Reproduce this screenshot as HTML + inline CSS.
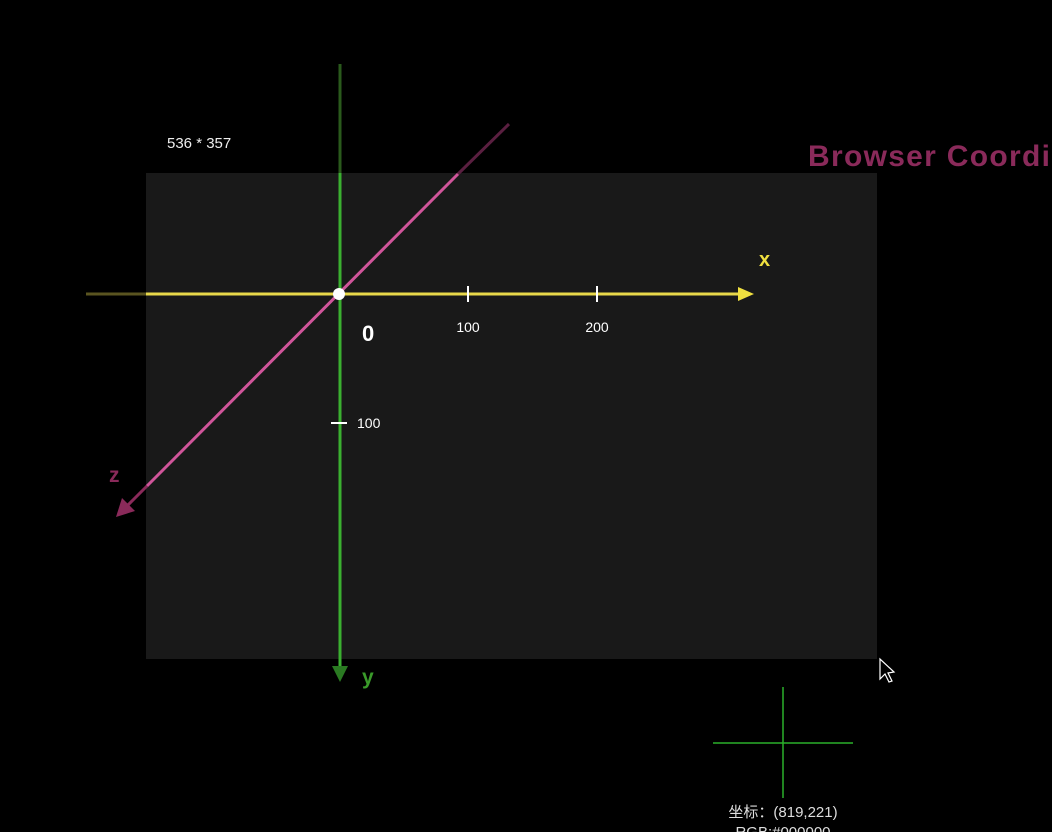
<!DOCTYPE html>
<html><head><meta charset="utf-8"><style>
html,body{margin:0;padding:0;background:#000;width:1052px;height:832px;overflow:hidden}
svg{display:block}
text{font-family:"Liberation Sans","Noto Sans CJK SC",sans-serif}
</style></head><body>
<svg id="c" width="1052" height="832">
<rect x="146" y="173" width="731" height="486" fill="#191919"/>
<text x="167" y="148" fill="#eee" font-size="15">536 * 357</text>
<text x="808" y="166" fill="#8a2a5a" font-size="30" font-weight="bold" letter-spacing="1.3">Browser Coordi</text>
<line x1="86" y1="294" x2="146" y2="294" stroke="#5a5420" stroke-width="3"/>
<line x1="146" y1="294" x2="742" y2="294" stroke="#e8d84a" stroke-width="3"/>
<polygon points="738,287 754,294 738,301" fill="#f0e040"/>
<text x="759" y="266" fill="#f0e040" font-size="20" font-weight="bold">x</text>
<line x1="340" y1="64" x2="340" y2="173" stroke="#2a5a1c" stroke-width="3"/>
<line x1="340" y1="173" x2="340" y2="668" stroke="#3ab030" stroke-width="3"/>
<polygon points="332,666 340,682 348,666" fill="#2a7a22"/>
<text x="362" y="684" fill="#3a9a2a" font-size="21" font-weight="bold">y</text>
<line x1="509" y1="124" x2="458" y2="174" stroke="#5a1f40" stroke-width="3"/>
<line x1="458" y1="174" x2="147" y2="486" stroke="#d0559a" stroke-width="3"/>
<line x1="147" y1="486" x2="124" y2="509" stroke="#8a2a5a" stroke-width="3"/>
<polygon points="116,517 122,498 135,511" fill="#8a2a5a"/>
<text x="109" y="482" fill="#8a2a5a" font-size="21" font-weight="bold">z</text>
<g id="ticks"></g>
<circle cx="339" cy="294" r="6" fill="#fff"/>
<text x="362" y="341" fill="#fff" font-size="22" font-weight="bold">0</text>
<path d="M880 659 L880 679 L885 674 L889 682 L892 681 L888 673 L894 672 Z" fill="#000" stroke="#fff" stroke-width="1.2"/>
<line x1="783" y1="687" x2="783" y2="798" stroke="#2ab02a" stroke-width="1.5"/>
<line x1="713" y1="743" x2="853" y2="743" stroke="#2ab02a" stroke-width="1.5"/>
<text x="783" y="817" fill="#ddd" font-size="15" text-anchor="middle">坐标：(819,221)</text>
<text x="783" y="837" fill="#ddd" font-size="15" text-anchor="middle">RGB:#000000</text>
</svg>
<script>
const xTicks=[100,200];
const yTicks=[100];
const ox=339, oy=294, scale=1.29;
const sx=v=>ox+v*scale, sy=v=>oy+v*scale;
const g=document.getElementById('ticks');
const NS='http://www.w3.org/2000/svg';
xTicks.forEach(v=>{
  const l=document.createElementNS(NS,'line');
  l.setAttribute('x1',sx(v));l.setAttribute('x2',sx(v));l.setAttribute('y1',oy-8);l.setAttribute('y2',oy+8);
  l.setAttribute('stroke','#fff');l.setAttribute('stroke-width','2');
  
  
  g.appendChild(l);
  const t=document.createElementNS(NS,'text');
  t.setAttribute('x',sx(v));t.setAttribute('y',oy+38);t.setAttribute('fill','#fff');
  t.setAttribute('font-size','14');t.setAttribute('text-anchor','middle');t.textContent=v;
  
  
  g.appendChild(t);
});
yTicks.forEach(v=>{
  const l=document.createElementNS(NS,'line');
  l.setAttribute('x1',ox-8);l.setAttribute('x2',ox+8);l.setAttribute('y1',sy(v));l.setAttribute('y2',sy(v));
  l.setAttribute('stroke','#fff');l.setAttribute('stroke-width','2');
  
  
  g.appendChild(l);
  const t=document.createElementNS(NS,'text');
  t.setAttribute('x',ox+18);t.setAttribute('y',sy(v)+5);t.setAttribute('fill','#fff');
  t.setAttribute('font-size','14');t.textContent=v;
  
  
  g.appendChild(t);
});
</script>
</body></html>
